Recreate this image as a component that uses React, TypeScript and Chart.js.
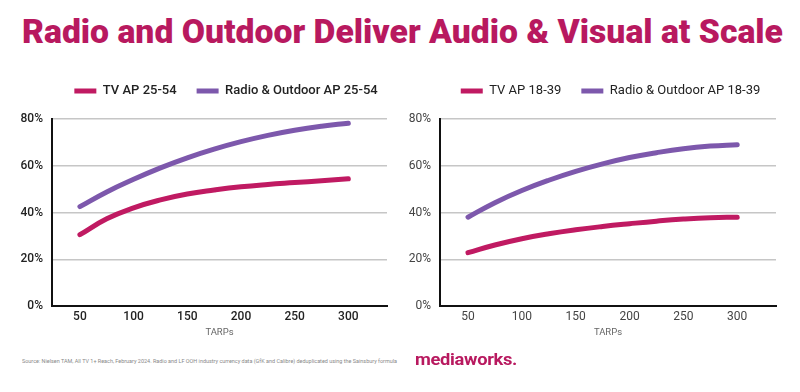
import React, { useEffect, useLayoutEffect, useRef } from "react";
import { Chart, registerables } from "chart.js";

Chart.register(...registerables);

// ---------- data ----------
const tarps = [50, 75, 100, 125, 150, 175, 200, 225, 250, 275, 300];
const xTickValues = [50, 100, 150, 200, 250, 300];
const yTickValues = [0, 20, 40, 60, 80];

const tv2554 = [30.5, 37.3, 42, 45.4, 47.9, 49.6, 51, 52, 52.8, 53.6, 54.4];
const radioOutdoor2554 = [42.5, 48.8, 54.2, 59.1, 63.4, 67.1, 70.3, 73, 75.2, 76.9, 78.2];
const tv1839 = [22.8, 26.1, 28.8, 30.9, 32.6, 34, 35.2, 36.3, 37.2, 37.8, 38];
const radioOutdoor1839 = [38, 44.2, 49.4, 53.8, 57.6, 60.8, 63.5, 65.6, 67.3, 68.4, 69];

const labelsLeft = ["TV AP 25-54", "Radio & Outdoor AP 25-54"];
const labelsRight = ["TV AP 18-39", "Radio & Outdoor AP 18-39"];

const TV_COLOR = "#C01A62";
const RADIO_COLOR = "#7D58AC";
const TITLE_COLOR = "#B8195F";

function points(values: number[]) {
  return tarps.map((x, i) => ({ x, y: values[i] }));
}

function makeConfig(
  tv: number[],
  ro: number[],
  labels: string[],
  yWidth: number,
  rightWidth: number,
  weight: number,
  tickColor: string
): any {
  const tickFont = { family: "Roboto", size: 12, weight: weight as any };
  const ds = (label: string, data: number[], color: string) => ({
    label,
    data: points(data),
    borderColor: color,
    backgroundColor: color,
    borderWidth: 5,
    borderCapStyle: "round",
    borderJoinStyle: "round",
    pointRadius: 0,
    pointHoverRadius: 0,
    tension: 0.45,
    fill: false,
  });
  return {
    type: "line",
    data: {
      datasets: [ds(labels[0], tv, TV_COLOR), ds(labels[1], ro, RADIO_COLOR)],
    },
    options: {
      responsive: false,
      animation: false,
      devicePixelRatio: 1,
      layout: { padding: { top: 64.5, left: 0, right: 0, bottom: 0 } },
      plugins: {
        tooltip: { enabled: false },
        legend: {
          display: true,
          position: "top",
          labels: {
            usePointStyle: true,
            pointStyle: "line",
            pointStyleWidth: 22,
            padding: 20,
            color: "#222",
            font: { family: "Roboto", size: 13, weight: weight as any },
          },
        },
        subtitle: {
          display: true,
          text: "",
          position: "top",
          weight: 500,
          padding: 0,
          font: { size: 11.5, lineHeight: 1 },
        },
      },
      scales: {
        x: {
          type: "linear",
          min: 24,
          max: 336,
          afterBuildTicks: (s: any) => {
            s.ticks = xTickValues.map((v) => ({ value: v }));
          },
          afterFit: (s: any) => {
            s.height = 34;
          },
          grid: { display: false, drawTicks: false },
          border: { display: true, color: "#111", width: 2 },
          ticks: { padding: 4, color: tickColor, font: tickFont },
          title: {
            display: true,
            text: "TARPs",
            color: "#666",
            font: { family: "Roboto", size: 9.5 },
            padding: { top: 2, bottom: 2 },
          },
        },
        y: {
          type: "linear",
          min: 0,
          max: 80,
          afterBuildTicks: (s: any) => {
            s.ticks = yTickValues.map((v) => ({ value: v }));
          },
          afterFit: (s: any) => {
            s.width = yWidth;
          },
          grid: {
            drawTicks: false,
            lineWidth: 1.5,
            color: (c: any) => (c.tick && c.tick.value === 0 ? "rgba(0,0,0,0)" : "#c6c6c6"),
          },
          border: { display: true, color: "#111", width: 2 },
          ticks: {
            padding: 9,
            color: tickColor,
            font: tickFont,
            callback: (v: any) => v + "%",
          },
        },
        yRightSpace: {
          type: "linear",
          position: "right",
          display: true,
          afterFit: (s: any) => {
            s.width = rightWidth;
          },
          grid: { display: false, drawTicks: false },
          border: { display: false },
          ticks: { display: false },
        },
      },
    },
  };
}

function ChartCanvas(props: {
  left: number;
  width: number;
  height: number;
  config: () => any;
}) {
  const ref = useRef<HTMLCanvasElement | null>(null);
  useEffect(() => {
    if (!ref.current) return;
    const chart = new Chart(ref.current, props.config());
    return () => chart.destroy();
  }, []);
  return (
    <canvas
      ref={ref}
      width={props.width}
      height={props.height}
      style={{
        position: "absolute",
        left: props.left,
        top: 0,
        width: props.width,
        height: props.height,
      }}
    />
  );
}

function FitText(props: {
  text: string;
  left: number;
  top: number;
  width: number;
  style: React.CSSProperties;
}) {
  const ref = useRef<HTMLDivElement | null>(null);
  useLayoutEffect(() => {
    const el = ref.current;
    if (!el) return;
    el.style.transform = "none";
    const w = el.getBoundingClientRect().width;
    if (w > 0) el.style.transform = `scaleX(${props.width / w})`;
  }, []);
  return (
    <div
      ref={ref}
      style={{
        position: "absolute",
        left: props.left,
        top: props.top,
        whiteSpace: "nowrap",
        lineHeight: 1,
        transformOrigin: "0 0",
        display: "inline-block",
        ...props.style,
      }}
    >
      {props.text}
    </div>
  );
}

export default function App() {
  useEffect(() => {
    document.body.style.margin = "0";
  }, []);
  return (
    <div
      style={{
        position: "fixed",
        left: 0,
        top: 0,
        width: 800,
        height: 392,
        overflow: "hidden",
        background: "#fff",
        fontFamily: "Roboto, sans-serif",
      }}
    >
      <FitText
        text="Radio and Outdoor Deliver Audio & Visual at Scale"
        left={22}
        top={14.5}
        width={761}
        style={{ fontSize: 33, fontWeight: 900, color: TITLE_COLOR }}
      />
      <ChartCanvas
        left={0}
        width={452}
        height={340}
        config={() => makeConfig(tv2554, radioOutdoor2554, labelsLeft, 52, 65, 500, "#222")}
      />
      <ChartCanvas
        left={400}
        width={421}
        height={340}
        config={() => makeConfig(tv1839, radioOutdoor1839, labelsRight, 40, 45, 400, "#444")}
      />
      <FitText
        text="Source: Nielsen TAM, All TV 1+ Reach, February 2024. Radio and LF OOH industry currency data (GfK and Calibre) deduplicated using the Sainsbury formula"
        left={22}
        top={358}
        width={375}
        style={{ fontSize: 6, fontWeight: 400, color: "#888" }}
      />
      <FitText
        text="mediaworks."
        left={415}
        top={350.5}
        width={102}
        style={{ fontSize: 17, fontWeight: 700, color: TITLE_COLOR, letterSpacing: -0.3 }}
      />
    </div>
  );
}
